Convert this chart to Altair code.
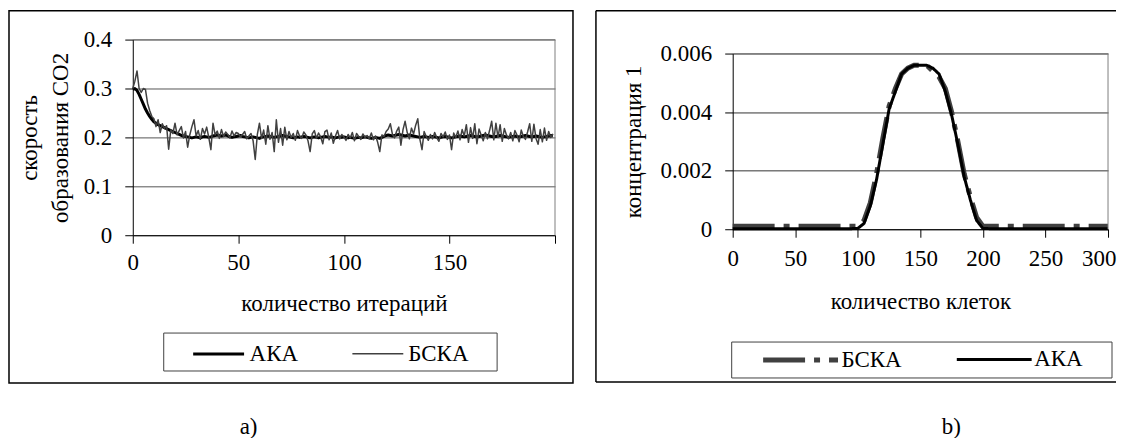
import altair as alt
import pandas as pd

FONT = "Liberation Serif"
FS = 23

# ---------------- left panel: rate of CO2 formation vs iterations ----------------
aka_rate = [
    0.298, 0.300, 0.296, 0.288, 0.278, 0.268, 0.258, 0.250, 0.243, 0.237,
    0.232, 0.229, 0.226, 0.224, 0.222, 0.220, 0.218, 0.216, 0.214, 0.212,
    0.210, 0.208, 0.206, 0.204, 0.203, 0.202,
    0.201, 0.200, 0.199, 0.200, 0.201, 0.200, 0.199, 0.201, 0.202, 0.201,
    0.200, 0.201, 0.203, 0.204, 0.205, 0.204, 0.203, 0.204, 0.205, 0.203,
    0.201, 0.200, 0.201, 0.202,
    0.203, 0.204, 0.202, 0.201, 0.200, 0.199, 0.200, 0.201, 0.200, 0.199,
    0.198, 0.200, 0.201, 0.202, 0.203, 0.202, 0.201, 0.200, 0.201, 0.202,
    0.203, 0.204, 0.203, 0.202, 0.201, 0.200, 0.199, 0.200, 0.201, 0.200,
    0.201, 0.202, 0.201, 0.200, 0.199, 0.200, 0.201, 0.200, 0.199, 0.200,
    0.201, 0.202, 0.201, 0.200, 0.201, 0.200, 0.199, 0.200, 0.201, 0.200,
    0.201, 0.200, 0.199, 0.200, 0.199, 0.198, 0.199, 0.200, 0.199, 0.200,
    0.201, 0.200, 0.199, 0.198, 0.199, 0.200, 0.199, 0.198, 0.200, 0.202,
    0.204, 0.205, 0.204, 0.203, 0.204, 0.205, 0.206, 0.205, 0.204, 0.203,
    0.204, 0.205, 0.204, 0.203, 0.202, 0.201, 0.200, 0.201, 0.202, 0.201,
    0.200, 0.201, 0.202, 0.201, 0.200, 0.199, 0.200, 0.201, 0.202, 0.201,
    0.200, 0.199, 0.200, 0.201, 0.202, 0.203, 0.202, 0.201, 0.202, 0.203,
    0.204, 0.203, 0.202, 0.201, 0.202, 0.203, 0.204, 0.205, 0.204, 0.203,
    0.202, 0.201, 0.202, 0.203, 0.204, 0.203, 0.202, 0.201, 0.200, 0.201,
    0.202, 0.203, 0.202, 0.201, 0.202, 0.203, 0.204, 0.203, 0.202, 0.201,
    0.202, 0.203, 0.202, 0.201, 0.200, 0.201, 0.202, 0.203, 0.204, 0.203,
]
bska_rate = [
    0.300, 0.315, 0.336, 0.300, 0.292, 0.300, 0.298, 0.270, 0.255, 0.243,
    0.238, 0.222, 0.236, 0.210, 0.228, 0.218, 0.224, 0.176, 0.215, 0.208,
    0.229, 0.205, 0.214, 0.222, 0.199, 0.212, 0.180, 0.205, 0.222, 0.236,
    0.203, 0.214, 0.196, 0.218, 0.207, 0.221, 0.200, 0.175, 0.229, 0.205,
    0.213, 0.198, 0.216, 0.202, 0.211, 0.206, 0.199, 0.213, 0.203, 0.210,
    0.208, 0.201, 0.206, 0.212, 0.197, 0.203, 0.208, 0.193, 0.155, 0.206,
    0.229, 0.198, 0.215, 0.186, 0.224, 0.196, 0.210, 0.171, 0.236, 0.190,
    0.218, 0.184, 0.221, 0.195, 0.212, 0.200, 0.208, 0.194, 0.214, 0.203,
    0.198, 0.211, 0.205, 0.193, 0.171, 0.207, 0.214, 0.198, 0.209, 0.201,
    0.187, 0.212, 0.215, 0.195, 0.209, 0.188, 0.203, 0.214, 0.197, 0.206,
    0.201, 0.194, 0.206, 0.199, 0.210, 0.193, 0.208, 0.202, 0.196, 0.207,
    0.200, 0.204, 0.197, 0.209, 0.195, 0.203, 0.190, 0.171, 0.205, 0.202,
    0.212, 0.217, 0.228, 0.206, 0.199, 0.213, 0.221, 0.184, 0.216, 0.233,
    0.210, 0.197, 0.219, 0.207, 0.225, 0.238, 0.196, 0.175, 0.212, 0.202,
    0.194, 0.206, 0.197, 0.210, 0.199, 0.192, 0.208, 0.201, 0.211, 0.196,
    0.205, 0.175, 0.209, 0.200, 0.213, 0.195, 0.216, 0.203, 0.226, 0.190,
    0.220, 0.198, 0.228, 0.187, 0.217, 0.205, 0.193, 0.210, 0.197, 0.214,
    0.233, 0.195, 0.229, 0.200, 0.226, 0.192, 0.218, 0.205, 0.197, 0.210,
    0.193, 0.214, 0.205, 0.191, 0.215, 0.202, 0.196, 0.211, 0.228, 0.192,
    0.227, 0.198, 0.186, 0.216, 0.191, 0.219, 0.194, 0.212, 0.200, 0.207,
]
left_series = ["АКА", "БСКА"]
left_x_ticks = [0, 50, 100, 150, 200]
left_y_ticks = [0, 0.1, 0.2, 0.3, 0.4]

# ---------------- right panel: concentration vs cells ----------------
cells = list(range(0, 305, 5))
aka_conc = [
    0.00002, 0.00002, 0.00002, 0.00002, 0.00002, 0.00002, 0.00002, 0.00002, 0.00002, 0.00002,
    0.00002, 0.00002, 0.00002, 0.00002, 0.00002, 0.00002, 0.00002, 0.00002, 0.00002, 0.00002,
    0.00003, 0.0002, 0.0008, 0.0017, 0.0029, 0.0041, 0.0047, 0.0053, 0.0055, 0.0056,
    0.0056, 0.0056, 0.0055, 0.0053, 0.0047, 0.0039, 0.0029, 0.0018, 0.0010, 0.0003,
    0.00003,
    0.00002, 0.00002, 0.00002, 0.00002, 0.00002, 0.00002, 0.00002, 0.00002, 0.00002, 0.00002,
    0.00002, 0.00002, 0.00002, 0.00002, 0.00002, 0.00002, 0.00002, 0.00002, 0.00002, 0.00002,
]
bska_conc = [
    0.0001, 0.0001, 0.0001, 0.0001, 0.0001, 0.0001, 0.0001, 0.0001, 0.0001, 0.0001,
    0.0001, 0.0001, 0.0001, 0.0001, 0.0001, 0.0001, 0.0001, 0.0001, 0.0001, 0.0001,
    0.0001, 0.0003, 0.0009, 0.0019, 0.0031, 0.0042, 0.0048, 0.0053, 0.0055, 0.0056,
    0.0056, 0.0056, 0.0054, 0.0052, 0.0048, 0.0040, 0.0030, 0.0019, 0.0011, 0.0004,
    0.0001,
    0.0001, 0.0001, 0.0001, 0.0001, 0.0001, 0.0001, 0.0001, 0.0001, 0.0001, 0.0001,
    0.0001, 0.0001, 0.0001, 0.0001, 0.0001, 0.0001, 0.0001, 0.0001, 0.0001, 0.0001,
]
right_series = ["БСКА", "АКА"]
right_x_ticks = [0, 50, 100, 150, 200, 250, 300]
right_y_ticks = [0, 0.002, 0.004, 0.006]

# ---------------- tables ----------------
l_aka = pd.DataFrame({"x": list(range(len(aka_rate))), "y": aka_rate, "s": "АКА"})
l_bska = pd.DataFrame({"x": list(range(len(bska_rate))), "y": bska_rate, "s": "БСКА"})
r_aka = pd.DataFrame({"x": cells[:len(aka_conc)], "y": aka_conc, "s": "АКА"})
r_bska = pd.DataFrame({"x": cells[:len(bska_conc)], "y": bska_conc, "s": "БСКА"})
dummy = alt.Data(values=[{"d": 0}])

# ---------------- left chart ----------------
LW, LH = 423, 196
lx = alt.X("x:Q", scale=alt.Scale(domain=[0, 200], nice=False, zero=False),
           axis=alt.Axis(values=left_x_ticks, labelExpr="datum.value == 200 ? '' : datum.label",
                         title="количество итераций", grid=False, labelFlush=False,
                         labelPadding=8, titlePadding=18))
ly = alt.Y("y:Q", scale=alt.Scale(domain=[0, 0.4], nice=False),
           axis=alt.Axis(values=left_y_ticks, labelExpr="format(datum.value, '~g')",
                         title=["скорость", "образования CO2"], titleLineHeight=31,
                         grid=True, gridColor="#555555", labelPadding=13, titlePadding=11))
legend_l = alt.Legend(title=None, orient="none", legendX=59, legendY=288, direction="horizontal",
                      symbolType="stroke", symbolSize=2601, labelOffset=4, columnPadding=51, padding=0)
color_l = alt.Color("s:N", scale=alt.Scale(domain=left_series, range=["#000000", "#404040"]), legend=legend_l)
sw_l = alt.StrokeWidth("s:N", scale=alt.Scale(domain=left_series, range=[3, 1.5]), legend=legend_l)

l_frame = alt.Chart(dummy).mark_rect(fillOpacity=0, stroke="black", strokeWidth=1.5).encode(
    x=alt.value(-124), x2=alt.value(441), y=alt.value(-29), y2=alt.value(344))
l_legbox = alt.Chart(dummy).mark_rect(fillOpacity=0, stroke="#404040", strokeWidth=1).encode(
    x=alt.value(31), x2=alt.value(365), y=alt.value(294), y2=alt.value(332))
l_line_a = alt.Chart(l_aka).mark_line(strokeJoin="round").encode(x=lx, y=ly, color=color_l, strokeWidth=sw_l)
l_line_b = alt.Chart(l_bska).mark_line(strokeJoin="round").encode(x="x:Q", y="y:Q", color=color_l, strokeWidth=sw_l)
l_top = alt.Chart(dummy).mark_rule(color="#808080").encode(x=alt.datum(0), x2=alt.datum(200), y=alt.datum(0.4))
l_right = alt.Chart(dummy).mark_rule(color="#808080").encode(x=alt.datum(200), y=alt.datum(0), y2=alt.datum(0.4))
l_cap = alt.Chart(dummy).mark_text(text="a)", font=FONT, fontSize=FS, align="center", baseline="middle",
                                   color="black").encode(x=alt.value(116), y=alt.value(388))

left = alt.layer(l_frame, l_legbox, l_line_a, l_line_b, l_top, l_right, l_cap).properties(width=LW, height=LH)

# ---------------- right chart ----------------
RW, RH = 376, 190
rx = alt.X("x:Q", scale=alt.Scale(domain=[0, 300], nice=False, zero=False),
           axis=alt.Axis(values=right_x_ticks, title="количество клеток", grid=False, labelFlush=False,
                         labelPadding=10, titlePadding=20,
                         labelAlign=alt.condition("datum.value == 300", alt.value("right"), alt.value("center")),
                         labelOffset=alt.condition("datum.value == 300", alt.value(8), alt.value(0))))
ry = alt.Y("y:Q", scale=alt.Scale(domain=[0, 0.006], nice=False, range=[190, 14]),
           axis=alt.Axis(values=right_y_ticks, labelExpr="format(datum.value, '~g')",
                         title="концентрация 1", grid=True, gridColor="#333333",
                         labelPadding=13, titlePadding=15))
legend_r = alt.Legend(title=None, orient="none", legendX=28, legendY=281, direction="horizontal",
                      symbolType="stroke", symbolSize=5625, labelOffset=1, columnPadding=48, padding=0)
color_r = alt.Color("s:N", scale=alt.Scale(domain=right_series, range=["#404040", "#000000"]), legend=legend_r)
sw_r = alt.StrokeWidth("s:N", scale=alt.Scale(domain=right_series, range=[5, 3]), legend=legend_r)
dash_r = alt.StrokeDash("s:N", scale=alt.Scale(domain=right_series, range=[[42, 9, 6, 9], [1, 0]]), legend=legend_r)

r_frame_left = alt.Chart(dummy).mark_rule(color="black", strokeWidth=1.5).encode(
    x=alt.value(-137), y=alt.value(-29), y2=alt.value(343))
r_frame_top = alt.Chart(dummy).mark_rule(color="black", strokeWidth=1.5).encode(
    x=alt.value(-137), x2=alt.value(384), y=alt.value(-29))
r_frame_bot = alt.Chart(dummy).mark_rule(color="black", strokeWidth=1.5).encode(
    x=alt.value(-137), x2=alt.value(384), y=alt.value(343))
r_legbox = alt.Chart(dummy).mark_rect(fillOpacity=0, stroke="#404040", strokeWidth=1).encode(
    x=alt.value(-1), x2=alt.value(380), y=alt.value(303), y2=alt.value(339))
r_line_b = alt.Chart(r_bska).mark_line().encode(x=rx, y=ry, color=color_r, strokeWidth=sw_r, strokeDash=dash_r)
r_line_a = alt.Chart(r_aka).mark_line(strokeJoin="round").encode(x="x:Q", y="y:Q", color=color_r,
                                                                   strokeWidth=sw_r, strokeDash=dash_r)
r_top = alt.Chart(dummy).mark_rule(color="#808080").encode(x=alt.datum(0), x2=alt.datum(300), y=alt.datum(0.006))
r_right = alt.Chart(dummy).mark_rule(color="#808080").encode(x=alt.datum(300), y=alt.datum(0), y2=alt.datum(0.006))
r_cap = alt.Chart(dummy).mark_text(text="b)", font=FONT, fontSize=FS, align="center", baseline="middle",
                                   color="black").encode(x=alt.value(219), y=alt.value(388))

right = alt.layer(r_frame_left, r_frame_top, r_frame_bot, r_legbox, r_line_b, r_line_a,
                  r_top, r_right, r_cap).properties(width=RW, height=RH)

chart = (
    alt.hconcat(left, right, spacing=21)
    .resolve_scale(x="independent", y="independent", color="independent",
                   strokeWidth="independent", strokeDash="independent")
    .resolve_legend(color="independent", strokeWidth="independent", strokeDash="independent")
    .properties(padding={"left": 0, "top": 1.25, "right": 0, "bottom": 0})
    .configure_axis(labelFont=FONT, titleFont=FONT, labelFontSize=FS, titleFontSize=FS,
                    labelColor="black", titleColor="black", titleFontWeight="normal",
                    domainColor="black", tickColor="black", tickSize=8)
    .configure_legend(labelFont=FONT, labelFontSize=FS, labelColor="black")
    .configure_view(stroke=None)
)

chart.save("out.html", embed_options={"renderer": "svg", "actions": False})
